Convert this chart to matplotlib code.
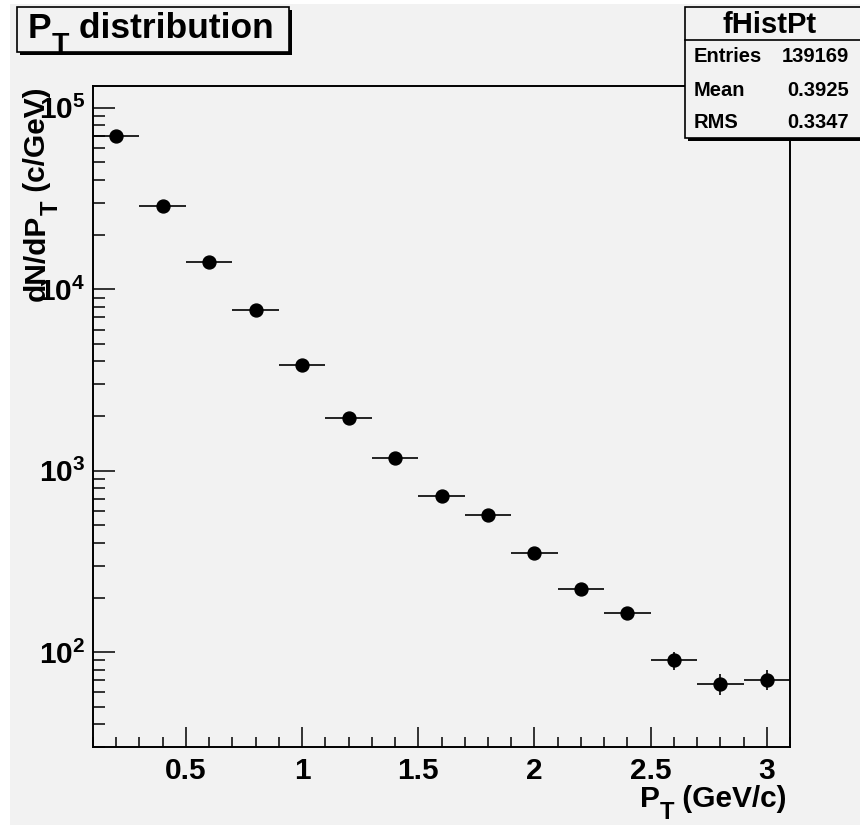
"""ROOT-style PT distribution with stats box."""

import matplotlib
matplotlib.use("Agg")
import matplotlib.pyplot as plt
from matplotlib.patches import Rectangle
from matplotlib.text import Annotation
from matplotlib.ticker import LogLocator, MultipleLocator, NullFormatter
import numpy as np

# data
pt_centers = [0.2, 0.4, 0.6, 0.8, 1.0, 1.2, 1.4, 1.6, 1.8, 2.0, 2.2, 2.4, 2.6, 2.8, 3.0]
dn_dpt = [69800, 28700, 14100, 7690, 3830, 1955, 1175, 725, 569, 351, 222, 164, 90, 67, 70.6]
dn_dpt_err = [265, 170, 119, 88, 62, 44, 34, 27, 24, 19, 15, 13, 10.5, 9, 9]
bin_half_width = 0.1

stats_name = "fHistPt"
stats_labels = ["Entries", "Mean", "RMS"]
stats_values = ["139169", "0.3925", "0.3347"]

W, H = 860, 825
BG = "#f2f2f2"
SUB_SCALE = 0.8
SUB_DROP = 0.38  # in em

plt.rcParams["font.family"] = ["Liberation Sans", "DejaVu Sans"]
plt.rcParams["font.weight"] = "bold"
plt.rcParams["mathtext.fontset"] = "custom"
plt.rcParams["mathtext.rm"] = "Liberation Sans:bold"
plt.rcParams["mathtext.it"] = "Liberation Sans:bold"
plt.rcParams["mathtext.bf"] = "Liberation Sans:bold"


def fx(px):
    return px / W


def fy(py):
    return 1 - py / H


def root_label(fig, x, y, pieces, size, mode, zorder=8):
    """Chain text pieces (text, is_subscript) the way ROOT draws #_{T}."""
    drop = SUB_DROP * size
    order = pieces if mode == "left" else pieces[::-1]
    prev = None
    prev_drop = 0.0
    for text, is_sub in order:
        fs = size * SUB_SCALE if is_sub else size
        d = drop if is_sub else 0.0
        kw = dict(fontsize=fs, fontweight="bold", zorder=zorder)
        if mode == "left":
            kw.update(ha="left", va="bottom")
            anchor, offset = (1, 0), (0, -(d - prev_drop))
        elif mode == "right":
            kw.update(ha="right", va="bottom")
            anchor, offset = (0, 0), (0, -(d - prev_drop))
        else:  # rotated, text ends at the top
            kw.update(ha="right", va="top", rotation=90)
            anchor, offset = (1, 0), (d - prev_drop, 0)
        if prev is None:
            if mode == "top":
                prev = fig.text(x, y, text, **kw)
            else:
                kw["va"] = "baseline"
                prev = fig.text(x, y, text, **kw)
        else:
            ann = Annotation(text, xy=anchor, xycoords=prev, xytext=offset,
                             textcoords="offset points", **kw)
            fig.add_artist(ann)
            prev = ann
        prev_drop = d


fig = plt.figure(figsize=(W / 100, H / 100), dpi=100, facecolor="white")
# grey canvas
fig.patches.append(Rectangle((fx(10), 0), 1, fy(4), transform=fig.transFigure,
                             facecolor=BG, edgecolor="none", zorder=-5))

ax = fig.add_axes([fx(93), fy(747), fx(790) - fx(93), fy(86) - fy(747)])
ax.set_facecolor(BG)
ax.set_yscale("log")
ax.set_xlim(0.1, 3.1)
ax.set_ylim(30, 1.32e5)

ax.errorbar(pt_centers, dn_dpt, xerr=bin_half_width, yerr=dn_dpt_err,
            fmt="o", color="black", ms=9.3, elinewidth=1.2, capsize=0, zorder=3)

for side in ax.spines.values():
    side.set_linewidth(1.4)

ax.xaxis.set_major_locator(MultipleLocator(0.5))
ax.xaxis.set_minor_locator(MultipleLocator(0.1))
ax.yaxis.set_major_locator(LogLocator(base=10, numticks=10))
ax.yaxis.set_minor_locator(LogLocator(base=10, subs=np.arange(2, 10), numticks=20))
ax.yaxis.set_minor_formatter(NullFormatter())
ax.yaxis.set_major_formatter(plt.FuncFormatter(lambda v, p: r"$10^{%d}$" % round(np.log10(v))))
ax.xaxis.set_major_formatter(plt.FuncFormatter(lambda v, p: f"{v:g}"))

ax.tick_params(axis="x", which="major", direction="in", length=14.4, width=1.1,
               pad=7, labelsize=21.5, top=False)
ax.tick_params(axis="x", which="minor", direction="in", length=7, width=1.1, top=False)
ax.tick_params(axis="y", which="major", direction="in", length=15.8, width=1.1,
               pad=5.5, labelsize=21.5, right=False)
ax.tick_params(axis="y", which="minor", direction="in", length=8.6, width=1.1, right=False)

# axis titles
root_label(fig, fx(787), fy(807), [("P", False), ("T", True), (" (GeV/c)", False)],
           21.5, "right")
root_label(fig, fx(51), fy(88), [("dN/dP", False), ("T", True), (" (c/GeV)", False)],
           21.5, "top")

# title pave with shadow
fig.patches.append(Rectangle((fx(20), fy(55)), fx(289) - fx(17), fy(7) - fy(52),
                             transform=fig.transFigure, facecolor="black",
                             edgecolor="none", zorder=5))
fig.patches.append(Rectangle((fx(17), fy(52)), fx(289) - fx(17), fy(7) - fy(52),
                             transform=fig.transFigure, facecolor=BG,
                             edgecolor="black", linewidth=1.2, zorder=6))
root_label(fig, fx(28), fy(38), [("P", False), ("T", True), (" distribution", False)],
           25.5, "left")

# stats box
fig.patches.append(Rectangle((fx(688), fy(141)), 1, fy(7) - fy(138),
                             transform=fig.transFigure, facecolor="black",
                             edgecolor="none", zorder=5))
fig.patches.append(Rectangle((fx(685), fy(138)), 1, fy(7) - fy(138),
                             transform=fig.transFigure, facecolor=BG,
                             edgecolor="black", linewidth=1.2, zorder=6))
fig.lines.append(plt.Line2D([fx(685), 1], [fy(40), fy(40)], transform=fig.transFigure,
                            color="black", linewidth=1.2, zorder=7))
fig.text(fx(770), fy(25), stats_name, ha="center", va="center", fontsize=21,
         fontweight="bold", zorder=8)
for row, (label, value) in enumerate(zip(stats_labels, stats_values)):
    yrow = 57 + row * 33
    fig.text(fx(694), fy(yrow), label, ha="left", va="center", fontsize=14.5,
             fontweight="bold", zorder=8)
    fig.text(fx(849), fy(yrow), value, ha="right", va="center", fontsize=14.5,
             fontweight="bold", zorder=8)

fig.savefig("out.png", dpi=100, facecolor="white")
